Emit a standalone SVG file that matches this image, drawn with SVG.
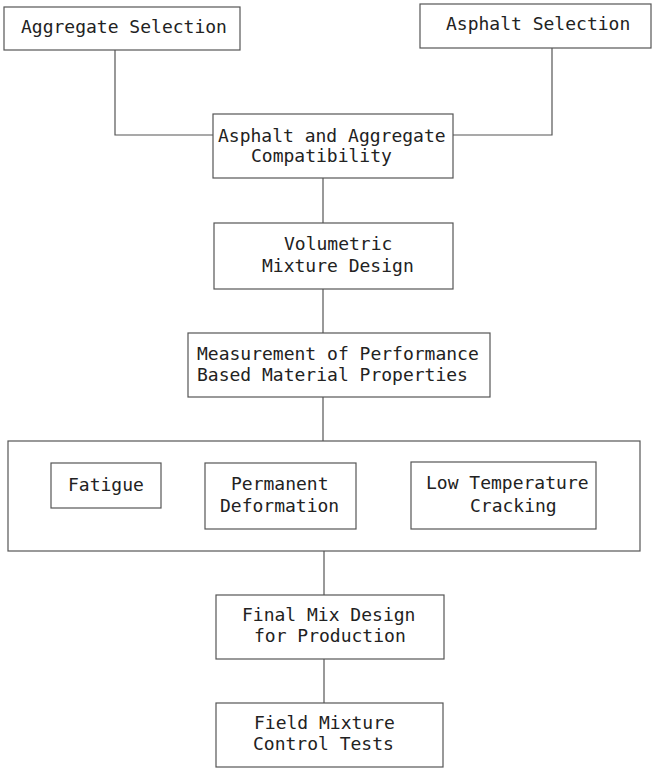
<svg xmlns="http://www.w3.org/2000/svg" width="655" height="768" viewBox="0 0 655 768">
<style>
.box{fill:#fff;stroke:#555;stroke-width:1.2}
.ln{fill:none;stroke:#555;stroke-width:1.2}
text{font-family:"DejaVu Sans Mono","Liberation Mono",monospace;font-size:18px;fill:#222}
</style>
<rect width="655" height="768" fill="#fff"/>
<g id="connectors">
<polyline class="ln" points="115,50 115,135 213,135"/>
<polyline class="ln" points="552,48 552,135 453,135"/>
<line class="ln" x1="323" y1="178" x2="323" y2="223"/>
<line class="ln" x1="323" y1="289" x2="323" y2="333"/>
<line class="ln" x1="323" y1="397" x2="323" y2="441"/>
<line class="ln" x1="324" y1="551" x2="324" y2="595"/>
<line class="ln" x1="324" y1="659" x2="324" y2="703"/>
</g>
<g id="aggregate-selection">
<rect class="box" x="4" y="7" width="236" height="43"/>
<text x="21" y="33">Aggregate Selection</text>
</g>
<g id="asphalt-selection">
<rect class="box" x="420" y="4" width="231" height="44"/>
<text x="446" y="30">Asphalt Selection</text>
</g>
<g id="compatibility">
<rect class="box" x="213" y="114" width="240" height="64"/>
<text x="218" y="142">Asphalt and Aggregate</text>
<text x="251" y="162">Compatibility</text>
</g>
<g id="volumetric">
<rect class="box" x="214" y="223" width="239" height="66"/>
<text x="284" y="250">Volumetric</text>
<text x="262" y="272">Mixture Design</text>
</g>
<g id="measurement">
<rect class="box" x="188" y="333" width="302" height="64"/>
<text x="197" y="360">Measurement of Performance</text>
<text x="197" y="381">Based Material Properties</text>
</g>
<g id="properties">
<rect class="box" x="8" y="441" width="632" height="110"/>
</g>
<g id="fatigue">
<rect class="box" x="51" y="463" width="110" height="45"/>
<text x="68" y="491">Fatigue</text>
</g>
<g id="permanent-deformation">
<rect class="box" x="205" y="463" width="151" height="66"/>
<text x="231" y="490">Permanent</text>
<text x="220" y="512">Deformation</text>
</g>
<g id="low-temperature-cracking">
<rect class="box" x="411" y="462" width="185" height="67"/>
<text x="426" y="489">Low Temperature</text>
<text x="470" y="512">Cracking</text>
</g>
<g id="final-mix">
<rect class="box" x="216" y="595" width="228" height="64"/>
<text x="242" y="621">Final Mix Design</text>
<text x="254" y="642">for Production</text>
</g>
<g id="field-mixture">
<rect class="box" x="216" y="703" width="227" height="64"/>
<text x="254" y="729">Field Mixture</text>
<text x="253" y="750">Control Tests</text>
</g>
</svg>
